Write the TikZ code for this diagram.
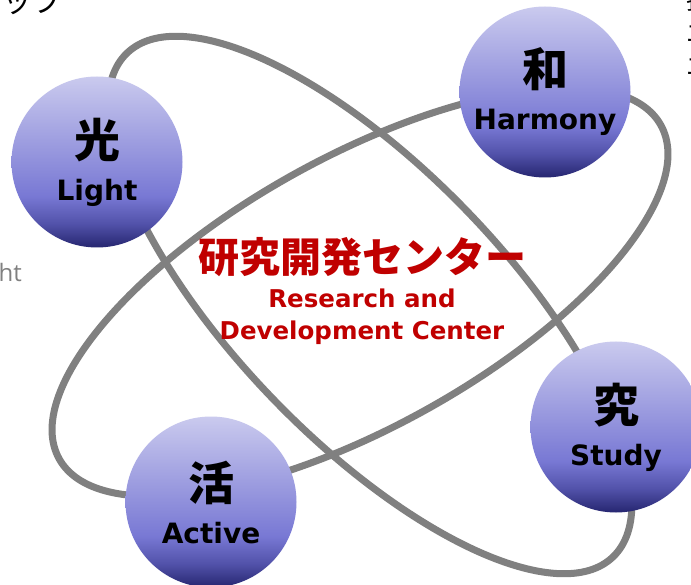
\documentclass[tikz,border=0pt]{standalone}
\usepackage{fontspec}
\newfontfamily\jpfont{Noto Sans CJK JP}
\newfontfamily\lbfont{DejaVu Sans}
\newfontfamily\thinfont{Open Sans}
\usetikzlibrary{positioning}

\definecolor{orbitgray}{RGB}{128,128,128}
\definecolor{rdred}{RGB}{192,0,0}
\definecolor{ballL}{RGB}{202,202,238}
\definecolor{ballM}{RGB}{120,120,212}
\definecolor{ballN}{RGB}{82,82,170}
\definecolor{ballD}{RGB}{38,38,112}
\pgfdeclareverticalshading{ballshade}{100bp}{color(0bp)=(ballD); color(25bp)=(ballD); color(32bp)=(ballN); color(40bp)=(ballM); color(75bp)=(ballL); color(100bp)=(ballL)}
\newcommand\kanji[1]{{\jpfont\bfseries\fontsize{46}{50}\selectfont #1}}

\begin{document}
\begin{tikzpicture}[
    x=1pt, y=-1pt,
    orbit/.style={draw=orbitgray, line width=7pt},
    ball/.style={circle, minimum size=171pt, inner sep=0pt, shading=ballshade, align=center, font=\lbfont\bfseries\fontsize{28}{31}\selectfont},
    title/.style={text=rdred, align=center, font=\lbfont\bfseries\fontsize{24.5}{32}\selectfont},
    frag/.style={inner sep=0pt}
]

% Background
\useasboundingbox (0,0) rectangle (691,585);
\clip (0,0) rectangle (691,585);
\fill[white] (0,0) rectangle (691,585);

% Text cut off at the edges
\node[frag, anchor=base east, font=\jpfont\fontsize{30}{30}\selectfont] (stepfrag) at (63,13) {ップ};
\node[frag, anchor=base east, text=orbitgray, font=\thinfont\fontsize{24}{24}\selectfont] (lightfrag) at (22,282) {Light};
\node[frag, anchor=north west, align=left, font=\jpfont\fontsize{25}{33}\selectfont] (sidefrag) at (686,-12) {担\\エ\\エ};

% Orbits
\draw[orbit, rotate around={-46:(370,305)}] (370,305) ellipse [x radius=350, y radius=135];
\draw[orbit, rotate around={29:(360,292)}] (360,292) ellipse [x radius=344, y radius=135];

% Balls
\node[ball] (light) at (97,162) {\kanji{光}\\[12pt]Light};
\node[ball] (harmony) at (545,92) {\kanji{和}\\[12pt]Harmony};
\node[ball] (study) at (616,427) {\kanji{究}\\[12pt]Study};
\node[ball] (active) at (211,502) {\kanji{活}\\[12pt]Active};

% Center
\node[title] (center) at (362,291) {{\jpfont\bfseries\fontsize{41}{45}\selectfont 研究開発センター}\\[3pt]Research and\\Development Center};

\end{tikzpicture}
\end{document}
